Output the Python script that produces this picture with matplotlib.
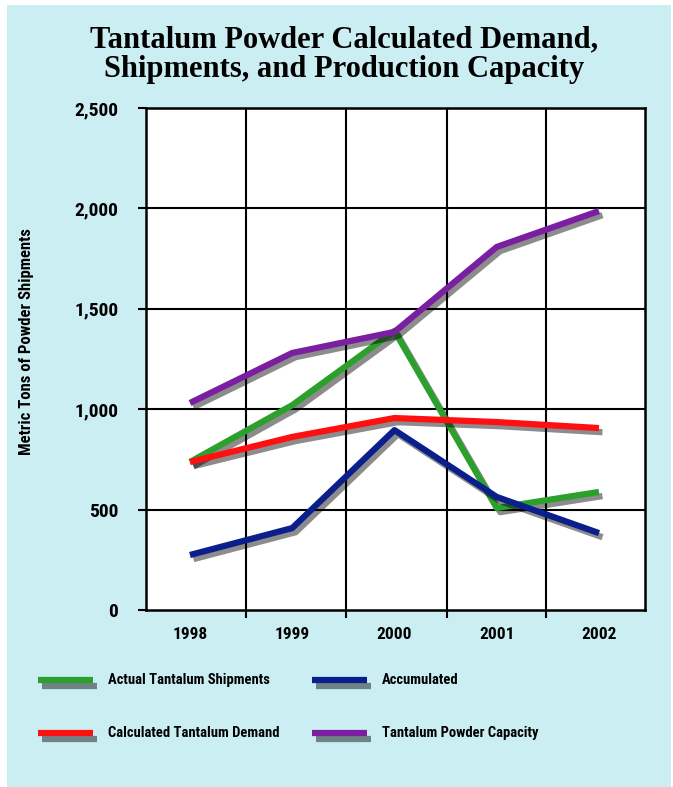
import matplotlib
matplotlib.use("Agg")
import matplotlib.pyplot as plt
import matplotlib.patheffects as pe
from matplotlib.patches import Rectangle
from matplotlib.lines import Line2D
from matplotlib import font_manager as fm

years = ["1998", "1999", "2000", "2001", "2002"]
shipments = [737, 1020, 1390, 508, 588]
accumulated = [274, 408, 896, 563, 383]
demand = [737, 862, 956, 936, 906]
capacity = [1031, 1280, 1385, 1808, 1987]
yticks = [0, 500, 1000, 1500, 2000, 2500]
ytick_labels = ["0", "500", "1,000", "1,500", "2,000", "2,500"]

series = [
    ("Actual Tantalum Shipments", shipments, "#2ca02c"),
    ("Accumulated", accumulated, "#0b1f8c"),
    ("Calculated Tantalum Demand", demand, "#ff1010"),
    ("Tantalum Powder Capacity", capacity, "#7b1fa2"),
]

names = {f.name for f in fm.fontManager.ttflist}
cond = [n for n in ["Liberation Sans Narrow", "DejaVu Sans Condensed", "Roboto Condensed",
                    "Open Sans Condensed"] if n in names]
TF = (cond[:1] + ["DejaVu Sans"]) if cond else ["DejaVu Sans"]
narrow = bool(cond)

W, H = 673, 787
fig = plt.figure(figsize=(W / 100, H / 100), dpi=100)
fig.patch.set_facecolor("white")
bg = Rectangle((7 / W, 0), (671 - 7) / W, (787 - 5) / H, transform=fig.transFigure,
               facecolor="#cbeef2", edgecolor="none", zorder=-10)
fig.patches.append(bg)

ax = fig.add_axes([146 / W, (787 - 610) / H, (645 - 146) / W, (610 - 108) / H])
ax.set_facecolor("white")

xs = list(range(len(years)))
shadow = [pe.SimpleLineShadow(offset=(2.5, -3), shadow_color="black", alpha=0.45), pe.Normal()]
order = [3, 0, 2, 1]
for i in order:
    name, vals, col = series[i]
    ax.plot(xs, vals, color=col, lw=4.5, solid_capstyle="butt", solid_joinstyle="round",
            path_effects=shadow, zorder=5 + i)

ax.set_xlim(-0.43, 4.45)
ax.set_ylim(0, 2500)
ax.set_yticks(yticks)
ax.set_yticklabels(ytick_labels, fontsize=14 if narrow else 11, fontweight="bold", family=TF)
ax.set_xticks(xs)
ax.set_xticklabels(years, fontsize=12.5 if narrow else 10, fontweight="bold", family=TF)
ax.tick_params(axis="x", which="major", length=0, pad=12)
ax.set_xticks([0.55, 1.53, 2.51, 3.48], minor=True)
ax.tick_params(axis="x", which="minor", length=6, width=1.5, direction="out")
ax.tick_params(axis="y", which="major", length=6, width=1.5, direction="out", pad=14)
for v in yticks[1:]:
    ax.axhline(v, color="black", lw=1.5, zorder=1)
for v in [0.55, 1.53, 2.51, 3.48]:
    ax.axvline(v, color="black", lw=1.5, zorder=1)
for s in ax.spines.values():
    s.set_linewidth(1.8)
    s.set_color("black")

ax.set_ylabel("Metric Tons of Powder Shipments", fontsize=12 if narrow else 9, fontweight="bold", family=TF)
ax.yaxis.set_label_coords((34 - 146) / (645 - 146), 0.535)

tfam = ["Liberation Serif", "DejaVu Serif"]
fig.text(344 / W, 1 - 40 / H, "Tantalum Powder Calculated Demand,", ha="center", va="center",
         fontsize=22, fontweight="bold", family=tfam)
fig.text(344 / W, 1 - 70 / H, "Shipments, and Production Capacity", ha="center", va="center",
         fontsize=22, fontweight="bold", family=tfam)

# legend
leg_fs = 10.5 if narrow else 8
leg_pos = [(38, 680), (312, 680), (38, 733), (312, 733)]
for (name, vals, col), (lx, ly) in zip(series, leg_pos):
    fy = 1 - ly / H
    ln = Line2D([lx / W, (lx + 55) / W], [fy, fy], transform=fig.transFigure, color=col, lw=4.5,
                solid_capstyle="butt",
                path_effects=[pe.SimpleLineShadow(offset=(3, -4), shadow_color="black", alpha=0.45), pe.Normal()])
    fig.lines.append(ln)
    fig.text((lx + 70) / W, fy, name, ha="left", va="center", fontsize=leg_fs, fontweight="bold", family=TF)

fig.savefig("out.png", dpi=100)
